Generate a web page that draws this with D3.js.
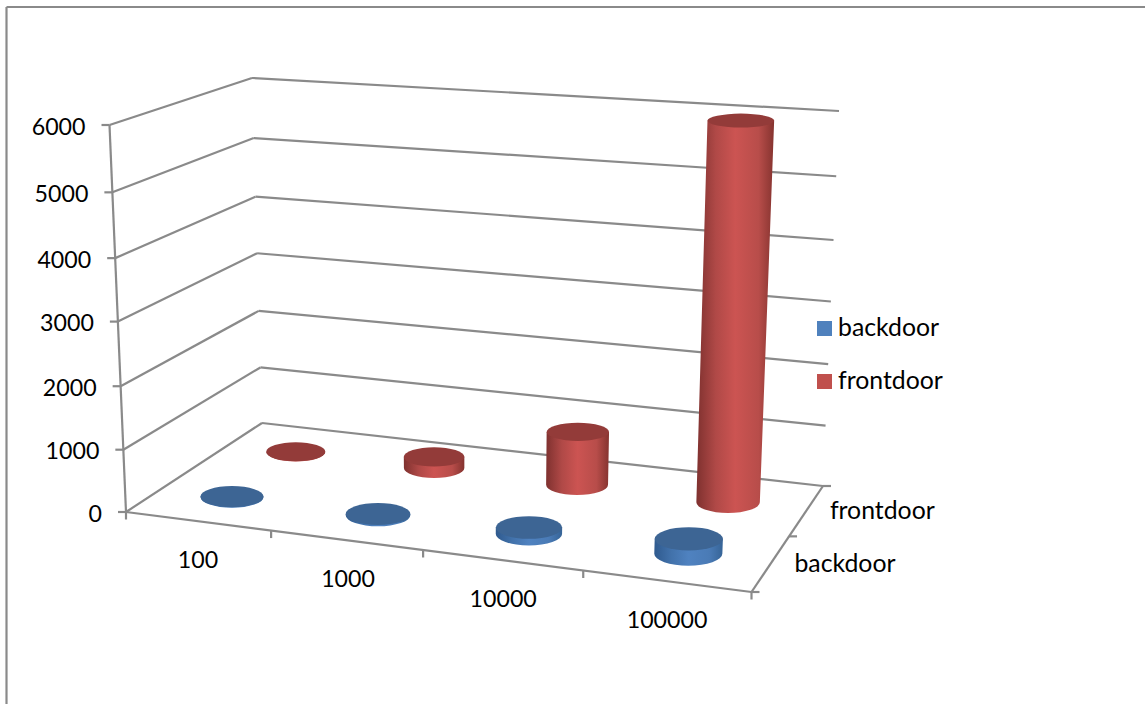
<!DOCTYPE html>
<html>
<head>
<meta charset="utf-8">
<style>
  html, body { margin: 0; padding: 0; background: #fff; }
  svg { display: block; }
  text { font-family: Lato, "Open Sans", sans-serif; font-size: 23.2px; fill: #000; }
  text.word { font-size: 24.8px; }
</style>
<script src="https://cdn.jsdelivr.net/npm/d3@7"></script>
</head>
<body>
<svg id="chart" width="1145" height="704"></svg>
<script>
// Chart content
const categories = ["100", "1000", "10000", "100000"];
const seriesNames = ["backdoor", "frontdoor"];
const backdoor = [8, 20, 100, 225];
const frontdoor = [5, 190, 875, 5970];
const valueTicks = [0, 1000, 2000, 3000, 4000, 5000, 6000];

const seriesValues = [backdoor, frontdoor];

// Perspective box: screen position of the eight corners of the plot volume
const floor = { fl: [126, 512], fr: [751.5, 592], bl: [262, 423], br: [823, 486] };
const roof = { fl: [109.5, 125], fr: [770, 162], bl: [252, 78], br: [839, 111] };

// Depth-corrected scales that map data onto box fractions
const catScale = d3.scaleLinear()
  .domain([-0.5, 0, 0.5, 1, 1.5, 2, 2.5, 3, 3.5])
  .range([0, 0.115, 0.232, 0.355, 0.475, 0.603, 0.731, 0.865, 1]);
const serScale = d3.scaleLinear()
  .domain([-0.5, 0, 0.5, 1, 1.5])
  .range([0, 0.265, 0.525, 0.761, 1]);
const valScale = d3.scaleLinear()
  .domain(valueTicks)
  .range([0, 0.161, 0.325, 0.492, 0.656, 0.826, 1]);

const mix = (a, b, t) => [a[0] + (b[0] - a[0]) * t, a[1] + (b[1] - a[1]) * t];
const onPlane = (pl, u, v) => mix(mix(pl.fl, pl.fr, u), mix(pl.bl, pl.br, u), v);

// Project (category, series, value) to the screen
function project(c, s, val) {
  const u = catScale(c), v = serScale(s), h = valScale(val);
  return mix(onPlane(floor, u, v), onPlane(roof, u, v), h);
}

// Foreshortening of the cylinder's round section
const rxByFloorY = d3.scaleLinear().domain([452, 553]).range([29.5, 34]);
const rxByValue = d3.scaleLinear().domain([0, 6000]).range([0, 1.6]);
const ryByScreenY = d3.scaleLinear().domain([121, 431, 514, 553]).range([7, 9, 11, 12]);

const svg = d3.select("#chart");
const defs = svg.append("defs");

const seriesStyle = [
  { swatch: "#4f81bd", top: "#3d6594",
    stops: ["#2f5a8e", "#4272ab", "#4f82c0", "#4a7bb6", "#366497"] },
  { swatch: "#c0504d", top: "#933b39",
    stops: ["#7f312f", "#b04947", "#cc5452", "#b84d4a", "#85332f"] }
];

seriesStyle.forEach((st, i) => {
  const g = defs.append("linearGradient").attr("id", "side" + i)
    .attr("x1", 0).attr("x2", 1).attr("y1", 0).attr("y2", 0);
  [0, 0.25, 0.5, 0.8, 1].forEach((o, k) => {
    g.append("stop").attr("offset", o).attr("stop-color", st.stops[k]);
  });
});

const lineColor = "#8a8a8a";
const lineWidth = 2.2;

function seg(a, b) {
  svg.append("line")
    .attr("x1", a[0]).attr("y1", a[1]).attr("x2", b[0]).attr("y2", b[1])
    .attr("stroke", lineColor).attr("stroke-width", lineWidth);
}

// Frame around the chart area
seg([6.5, 7], [1145, 7]);
seg([6.5, 7], [6.5, 704]);

// Wall gridlines, running along the side wall and then the back wall
const catEnds = [-0.5, 3.5], serEnds = [-0.5, 1.5];
valueTicks.forEach(t => {
  const front = project(catEnds[0], serEnds[0], t);
  const backL = project(catEnds[0], serEnds[1], t);
  const backR = project(catEnds[1], serEnds[1], t);
  seg(front, backL);
  seg(backL, backR);
  // tick and value label on the vertical axis
  seg([front[0] - 8, front[1]], front);
  svg.append("text")
    .attr("x", front[0] - 24).attr("y", front[1] + 0.5)
    .attr("text-anchor", "end").attr("dominant-baseline", "central")
    .text(t);
});

// Vertical axis and floor edges
seg(project(catEnds[0], serEnds[0], 0), project(catEnds[0], serEnds[0], 6000));
seg(project(catEnds[0], serEnds[0], 0), project(catEnds[1], serEnds[0], 0));
seg(project(catEnds[1], serEnds[0], 0), project(catEnds[1], serEnds[1], 0));

// Category ticks along the front edge of the floor
d3.range(-0.5, 4, 1).forEach(c => {
  const p = project(c, serEnds[0], 0);
  seg(p, [p[0], p[1] + 7.5]);
});

// Series ticks along the right edge of the floor
d3.range(-0.5, 2, 1).forEach(s => {
  const p = project(catEnds[1], s, 0);
  seg(p, [p[0] + 8, p[1]]);
});

// Category labels
categories.forEach((name, c) => {
  const p = project(c, serEnds[0], 0);
  svg.append("text")
    .attr("x", p[0]).attr("y", p[1] + 37.5)
    .attr("text-anchor", "middle").attr("dominant-baseline", "central")
    .text(name);
});

// Series labels on the depth axis
seriesNames.forEach((name, s) => {
  const p = project(catEnds[1], s, 0);
  svg.append("text").attr("class", "word")
    .attr("x", p[0] + 24).attr("y", p[1] - 1.5)
    .attr("dominant-baseline", "central")
    .text(name);
});

// Cylinders, back row first so that nearer ones overlap it
d3.range(seriesNames.length - 1, -1, -1).forEach(s => {
  seriesValues[s].forEach((val, c) => {
    const b = project(c, s, 0), t = project(c, s, val);
    const rxB = rxByFloorY(b[1]);
    const rxT = rxB + rxByValue(val);
    const ryB = ryByScreenY(b[1]);
    const ryT = ryByScreenY(t[1]);
    const g = svg.append("g").attr("class", "bar");
    g.append("path")
      .attr("fill", `url(#side${s})`)
      .attr("d", `M${t[0] - rxT},${t[1]} L${b[0] - rxB},${b[1]}` +
        ` A${rxB},${ryB} 0 0 0 ${b[0] + rxB},${b[1]}` +
        ` L${t[0] + rxT},${t[1]} Z`);
    g.append("ellipse")
      .attr("cx", t[0]).attr("cy", t[1]).attr("rx", rxT).attr("ry", ryT)
      .attr("fill", seriesStyle[s].top);
  });
});

// Legend
seriesNames.forEach((name, s) => {
  const y = 328.5 + s * 53;
  svg.append("rect")
    .attr("x", 817).attr("y", y - 7.5).attr("width", 15).attr("height", 15)
    .attr("fill", seriesStyle[s].swatch);
  svg.append("text").attr("class", "word")
    .attr("x", 838).attr("y", y - 2)
    .attr("dominant-baseline", "central")
    .text(name);
});
</script>
</body>
</html>
